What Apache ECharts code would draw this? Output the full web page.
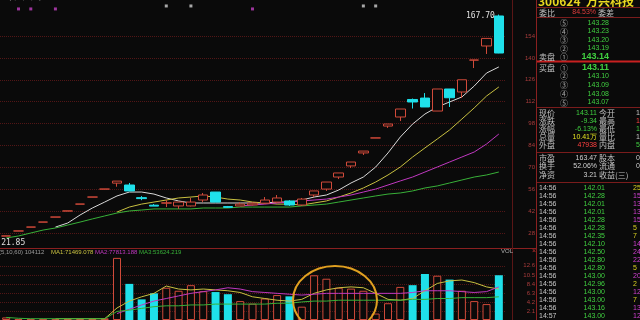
<!DOCTYPE html>
<html><head><meta charset="utf-8">
<script src="https://cdn.jsdelivr.net/npm/echarts@6/dist/echarts.min.js"></script>
<style>html,body{margin:0;padding:0;background:#0a0a0a;overflow:hidden}#c{width:640px;height:320px}</style>
</head><body><div id="c"></div>
<script>
// ---------- data ----------
const days = ['D01','D02','D03','D04','D05','D06','D07','D08','D09','D10','D11','D12','D13','D14','D15','D16','D17','D18','D19','D20','D21','D22','D23','D24','D25','D26','D27','D28','D29','D30','D31','D32','D33','D34','D35','D36','D37','D38','D39','D40','D41'];
// [open, close, low, high]
const ohlc = [
 [26.1,26.1,26.1,26.1],[29.3,29.3,29.3,29.3],[31.8,31.8,31.8,31.8],[35.0,35.0,35.0,35.0],[38.2,38.2,38.2,38.2],
 [42.1,42.1,42.1,42.1],[46.5,46.5,46.5,46.5],[51.0,51.0,51.0,51.0],[56.1,56.1,56.1,56.1],[59.9,61.2,57.6,61.2],
 [58.7,54.9,54.9,60.0],[50.6,50.0,49.0,51.6],[45.8,45.2,45.2,46.5],[47.1,47.3,44.6,49.0],[45.3,47.8,43.4,47.8],
 [45.3,47.8,45.0,50.4],[49.1,52.3,47.8,53.6],[54.2,47.8,47.8,54.2],[44.9,44.4,44.0,45.3],[45.3,46.5,45.3,47.6],
 [46.0,47.1,45.6,47.6],[47.1,49.1,46.5,51.0],[47.8,50.4,47.2,52.3],[48.5,45.9,45.3,49.0],[45.9,49.7,45.3,50.4],
 [52.3,54.9,51.0,54.9],[56.1,60.6,54.9,60.6],[63.8,66.4,62.5,66.4],[70.9,73.4,69.6,73.4],[79.2,80.4,77.9,80.4],
 [88.8,88.8,88.8,88.8],[96.4,97.7,95.2,97.7],[102.2,107.3,99.6,107.3],[113.4,111.8,107.6,114.0],[114.3,108.6,108.6,117.5],
 [106.0,120.1,106.0,120.1],[120.1,114.5,108.6,120.1],[118.2,126.0,114.3,126.0],[138.6,138.6,133.5,138.6],[147.6,152.45,142.5,152.45],
 [166.8,143.11,143.0,167.70]
];
const lowLabel = 21.85;
const highLabel = 167.70;
const ma5 = [null,null,null,null,31.8,34.4,39.5,44.0,47.8,51.7,54.2,54.2,52.9,50.4,48.5,47.2,47.2,47.2,47.2,47.2,47.2,47.2,47.8,47.8,49.1,51.0,52.3,55.5,60.0,63.8,70.2,79.2,89.4,97.7,104.1,108.6,111.8,115.0,122.0,130.3,134.2];
const ma10 = [null,null,null,null,null,null,null,null,null,41.4,44.6,46.5,47.8,49.1,50.4,51.0,51.7,51.0,49.7,49.1,47.8,47.2,46.5,46.5,45.9,47.2,48.5,51.0,53.6,56.8,60.6,65.1,70.2,76.6,82.4,88.1,93.9,100.9,108.0,115.6,121.4];
const ma20 = [null,null,null,null,null,null,null,null,null,null,null,null,null,null,null,null,null,null,null,45.3,45.9,46.5,47.2,47.8,48.5,49.1,49.7,51.0,52.3,54.2,56.1,58.7,61.3,63.8,67.0,70.2,73.4,76.6,79.8,84.9,91.3];
const ma60 = [24.8,26.1,28.0,29.9,31.2,33.1,35.0,37.0,38.9,40.8,42.1,42.7,43.4,43.4,43.4,43.4,44.0,44.0,44.0,44.6,44.6,44.6,44.6,44.6,45.3,45.9,46.5,47.8,49.1,50.4,51.7,52.9,53.6,54.9,56.8,58.1,60.0,61.9,63.8,65.1,67.0];
// volume in 万手
const volume = [0.6,0.2,0.2,0.2,0.2,0.2,0.3,0.3,0.4,14.45,8.4,4.8,6.2,7.5,6.8,8.1,6.7,6.5,6.0,4.4,3.8,5.0,5.8,5.5,3.1,10.4,9.6,7.5,7.3,6.8,1.5,3.9,7.7,8.1,10.7,10.3,9.4,6.8,4.4,3.7,10.41];
const volMa5 = [null,null,null,null,0.3,0.3,0.3,0.3,0.3,2.8,4.4,5.4,6.2,7.9,7.2,7.0,7.2,7.0,6.8,6.4,5.4,5.0,4.6,4.4,4.8,6.2,7.0,7.5,7.7,7.5,6.2,4.8,4.6,5.0,6.8,8.5,9.1,9.3,8.7,7.7,7.2];
const volMa10 = [null,null,null,null,null,null,null,null,null,1.5,2.5,3.5,4.4,5.0,5.6,6.2,6.6,7.0,7.5,7.2,6.6,6.4,6.2,6.0,5.8,6.0,6.2,6.2,6.2,6.2,6.2,6.2,6.2,6.4,6.8,6.8,6.8,6.6,6.4,6.6,7.7];
const volMa60 = [0.6,0.4,0.3,0.3,0.3,0.3,0.3,0.3,0.3,2.0,2.3,2.7,3.1,3.3,3.3,3.5,3.5,3.7,3.7,3.7,3.7,3.7,3.9,3.9,4.2,4.4,4.4,4.6,4.6,4.6,4.6,4.6,4.6,4.8,4.8,5.0,5.0,5.2,5.2,5.2,5.4];
const infoMarksA = [1,2,4,20];
const infoMarksB = [13,15,29,30];
const priceLegend = ['MA(5,10,20,60)  MA5:134.88', 'MA10:122.04', 'MA20:92.01', 'MA60:67.21'];
const volLegend = ['(5,10,60) 104112', 'MA1:71469.078', 'MA2:77813.188', 'MA3:53624.219'];
// right panel
const stockTitle = '300624  万兴科技';
const ratioRow = ['委比', '84.53%', '委差'];
const sellBook = [['⑤','143.28'],['④','143.23'],['③','143.20'],['②','143.19'],['①','143.14']];
const buyBook = [['①','143.11'],['②','143.10'],['③','143.09'],['④','143.08'],['⑤','143.07']];
const quoteRows = [['现价','143.11','今开','166.50'],['涨跌','-9.34','最高','167.70'],['涨幅','-6.13%','最低','143.00'],['总量','10.41万','量比','1.45'],['外盘','47938','内盘','56174']];
const finRows = [['市盈','163.47','股本','0.80亿'],['换手','52.06%','流通','0.20亿'],['净资','3.21','收益(三)','']];
const tickTimes = ['14:56','14:56','14:56','14:56','14:56','14:56','14:56','14:56','14:56','14:56','14:56','14:56','14:56','14:56','14:56','14:56','14:57'];
const tickPrices = ['142.01','142.28','142.01','142.01','142.28','142.28','142.35','142.10','142.50','142.80','142.80','143.00','142.96','143.00','143.00','143.16','143.00'];
const tickVols = ['25','15','13','13','15','5','7','14','24','22','5','20','2','12','7','13','12'];
const tickSide = ['y','m','m','m','m','y','y','m','m','m','y','m','y','m','y','m','m'];

// ---------- styles ----------
const BG = '#0a0a0a', UP = '#d04a3a', DOWN = '#1fe0ea';
const C_W = '#d8d8d8', C_Y = '#c8c040', C_M = '#c038c0', C_G = '#38b038';
const GRID_RED = '#521616', FRAME = '#7a1c1c';
const CJK = '"Noto Sans CJK SC", "Liberation Sans", sans-serif';
const SANS = '"Liberation Sans", "DejaVu Sans", sans-serif';

function isUp(i) {
  const d = ohlc[i];
  if (d[1] > d[0]) return true;
  if (d[1] < d[0]) return false;
  return i === 0 ? true : ohlc[i - 1][1] <= d[1];
}
function T(x, y, s, fill, size, align, weight, fam) {
  return { type: 'text', x: x, y: y, z: 100, silent: true,
    style: { text: s, fill: fill, font: (weight || 'normal') + ' ' + size + 'px ' + (fam || CJK),
      align: align || 'left', verticalAlign: 'middle', textAlign: align || 'left', textVerticalAlign: 'middle' } };
}
function L(x1, y1, x2, y2, stroke, w) {
  return { type: 'line', z: 90, silent: true, shape: { x1: x1, y1: y1, x2: x2, y2: y2 }, style: { stroke: stroke, lineWidth: w || 1 } };
}

const G = [];
// frame lines
G.push(L(0, 248.5, 537, 248.5, '#8a2020', 1));
G.push(L(512.5, 0, 512.5, 320, '#5a1616', 1));
G.push(L(536.5, 0, 536.5, 320, '#8a2020', 1));
[7.5, 17.5, 107.5, 152.5, 182.5].forEach(y => G.push(L(537, y, 640, y, FRAME, 1)));
G.push(L(537, 61.5, 640, 61.5, '#c82020', 2));
// legends
const plx = [0, 90, 128, 163], plc = ['#9a9a9a', C_Y, C_M, C_G];
priceLegend.forEach((s, i) => G.push(T(plx[i], -1.5, s, plc[i], 6, 'left', 'normal', SANS)));
const vlx = [-1, 51, 95, 139];
volLegend.forEach((s, i) => G.push(T(vlx[i], 252, s, plc[i], 6, 'left', 'normal', SANS)));
G.push(T(513, 251, 'VOL', '#b0b0b0', 6, 'right', 'normal', SANS));
G.push(T(534, 251, '×', '#c83030', 7, 'center', 'normal', SANS));
// right panel
G.push(T(538, 1.5, stockTitle, '#e8d820', 12, 'left', 'bold'));
G.push(T(539, 12.5, ratioRow[0], '#c0c0c0', 8));
G.push(T(596, 12.5, ratioRow[1], '#e03c3c', 7, 'right', 'normal', SANS));
G.push(T(598, 12.5, ratioRow[2], '#c0c0c0', 8));
sellBook.forEach((r, k) => {
  const y = 23 + 8.5 * k, last = k === sellBook.length - 1;
  G.push(T(560, y, r[0], '#a8a8a8', 8));
  G.push(T(609, y, r[1], '#40d040', last ? 9 : 7, 'right', last ? 'bold' : 'normal', SANS));
});
G.push(T(539, 57, '卖盘', '#c0c0c0', 8));
buyBook.forEach((r, k) => {
  const y = 67.5 + 8.75 * k, first = k === 0;
  G.push(T(560, y, r[0], '#a8a8a8', 8));
  G.push(T(609, y, r[1], '#40d040', first ? 9 : 7, 'right', first ? 'bold' : 'normal', SANS));
});
G.push(T(539, 67.5, '买盘', '#c0c0c0', 8));
const qc = ['#40d040', '#40d040', '#40d040', '#e0e020', '#ff4040'];
const qrc = ['#c8c8c8', '#ff4040', '#40d040', '#c8c8c8', '#40d040'];
quoteRows.forEach((r, k) => {
  const y = 113 + 8.1 * k;
  G.push(T(539, y, r[0], '#c0c0c0', 8));
  G.push(T(597, y, r[1], qc[k], 7, 'right', 'normal', SANS));
  G.push(T(599, y, r[2], '#c0c0c0', 8));
  G.push(T(636, y, r[3], qrc[k], 7, 'left', 'normal', SANS));
});
finRows.forEach((r, k) => {
  const y = 158 + 8.3 * k;
  G.push(T(539, y, r[0], '#c0c0c0', 8));
  G.push(T(597, y, r[1], '#d0d0d0', 7, 'right', 'normal', SANS));
  G.push(T(599, y, r[2], '#c0c0c0', 8));
  G.push(T(636, y, r[3], '#d0d0d0', 7, 'left', 'normal', SANS));
});
tickTimes.forEach((t, k) => {
  const y = 188 + 8 * k;
  G.push(T(539, y, t, '#c8c8c8', 7, 'left', 'normal', SANS));
  G.push(T(605, y, tickPrices[k], '#40d040', 7, 'right', 'normal', SANS));
  G.push(T(633, y, tickVols[k], tickSide[k] === 'y' ? '#d8d020' : '#d040d0', 7, 'left', 'normal', SANS));
});
// annotation ellipse
G.push({ type: 'ellipse', z: 95, silent: true, shape: { cx: 335, cy: 300, rx: 42, ry: 34 }, style: { fill: 'none', stroke: '#e0a020', lineWidth: 2 } });

const lineS = (name, data, color, xi, yi) => ({
  name: name, type: 'line', xAxisIndex: xi, yAxisIndex: yi, data: data, showSymbol: false, symbol: 'none',
  lineStyle: { color: color, width: 1 }, itemStyle: { color: color }, z: 3, silent: true
});

const option = {
  backgroundColor: BG,
  animation: false,
  grid: [
    { left: -1, width: 506, top: 14.1, height: 240.8 },
    { left: -1, width: 506, top: 256.8, height: 71.4 }
  ],
  xAxis: [
    { type: 'category', data: days, gridIndex: 0, boundaryGap: true, show: false },
    { type: 'category', data: days, gridIndex: 1, boundaryGap: true, show: false }
  ],
  yAxis: [
    { type: 'value', gridIndex: 0, position: 'right', min: 14, max: 168, interval: 14,
      axisLine: { show: false }, axisTick: { show: false },
      axisLabel: { align: 'right', margin: 30, color: '#a83c3c', fontSize: 6, fontFamily: SANS, showMinLabel: false, showMaxLabel: false },
      splitLine: { show: true, showMinLine: false, showMaxLine: false, lineStyle: { color: GRID_RED, type: 'dotted', width: 1 } } },
    { type: 'value', gridIndex: 1, position: 'right', min: 0, max: 14.7, interval: 2.1,
      axisLine: { show: false }, axisTick: { show: false },
      axisLabel: { align: 'right', margin: 30, color: '#a83c3c', fontSize: 6, fontFamily: SANS, showMinLabel: false, showMaxLabel: false,
        formatter: v => v.toFixed(1) },
      splitLine: { show: true, showMinLine: false, showMaxLine: false, lineStyle: { color: GRID_RED, type: 'dotted', width: 1 } } }
  ],
  series: [
    { type: 'candlestick', xAxisIndex: 0, yAxisIndex: 0, data: ohlc, barWidth: 10, z: 5,
      itemStyle: { color: BG, color0: DOWN, borderColor: UP, borderColor0: DOWN, borderWidth: 1 },
      markPoint: {
        symbol: 'circle', symbolSize: 0, silent: true,
        data: [
          { coord: [0, lowLabel], value: lowLabel,
            label: { show: true, position: 'right', distance: 0, offset: [-5, 0], formatter: p => p.value.toFixed(2),
              color: '#e0e0e0', fontSize: 8, fontFamily: '"DejaVu Sans Mono", monospace' } },
          { coord: [ohlc.length - 1, highLabel], value: highLabel,
            label: { show: true, position: 'left', distance: 4, offset: [0, 1.5], formatter: p => p.value.toFixed(2),
              color: '#e0e0e0', fontSize: 8, fontFamily: '"DejaVu Sans Mono", monospace' } }
        ]
      } },
    lineS('MA5', ma5, C_W, 0, 0),
    lineS('MA10', ma10, C_Y, 0, 0),
    lineS('MA20', ma20, C_M, 0, 0),
    lineS('MA60', ma60, C_G, 0, 0),
    { type: 'scatter', xAxisIndex: 0, yAxisIndex: 0, clip: false, symbol: 'rect', symbolSize: 3, silent: true,
      data: infoMarksA.map(i => [i, 171.3]), itemStyle: { color: '#c040c0' } },
    { type: 'scatter', xAxisIndex: 0, yAxisIndex: 0, clip: false, symbol: 'rect', symbolSize: 3, silent: true,
      data: infoMarksB.map(i => [i, 173.2]), itemStyle: { color: '#d0d0d0' } },
    { type: 'bar', xAxisIndex: 1, yAxisIndex: 1, barWidth: 8, z: 2, silent: true,
      data: volume.map((v, i) => ({ value: v, itemStyle: isUp(i)
        ? { color: BG, borderColor: UP, borderWidth: 1 }
        : { color: DOWN, borderColor: DOWN, borderWidth: 0 } })) },
    lineS('VMA5', volMa5, C_Y, 1, 1),
    lineS('VMA10', volMa10, C_M, 1, 1),
    lineS('VMA60', volMa60, C_G, 1, 1)
  ],
  graphic: { elements: G }
};
const chart = echarts.init(document.getElementById('c'), null, { renderer: 'canvas' });
chart.setOption(option);
</script>
</body></html>
